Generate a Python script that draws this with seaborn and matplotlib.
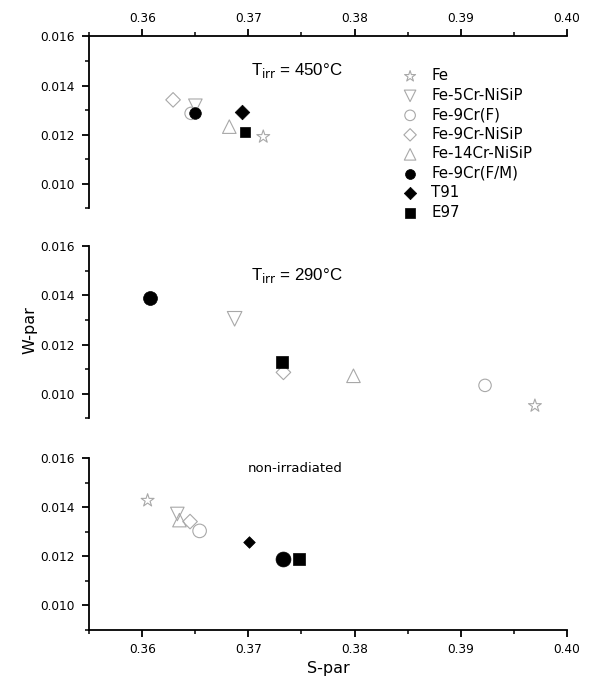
import matplotlib
matplotlib.use("Agg")
import matplotlib.pyplot as plt
import seaborn as sns
from matplotlib.ticker import MultipleLocator

# ─── Data ─────────────────────────────────────────────────────────────────────
samples = ["Fe", "Fe-5Cr-NiSiP", "Fe-9Cr(F)", "Fe-9Cr-NiSiP",
           "Fe-14Cr-NiSiP", "Fe-9Cr(F/M)", "T91", "E97"]

s_450 = [0.3714, 0.3650, 0.3646, 0.3629, 0.3682, 0.3650, 0.3694, 0.3697]
w_450 = [0.01192, 0.01318, 0.01287, 0.01342, 0.01233, 0.01287, 0.01291, 0.01213]

s_290 = [0.3970, 0.3687, 0.3923, 0.3733, 0.3799, 0.3607, None, 0.3732]
w_290 = [0.00951, 0.01305, 0.01034, 0.01087, 0.01073, 0.01388, None, 0.01131]

s_non = [0.3605, 0.3633, 0.3654, 0.3645, 0.3635, 0.3733, 0.3701, 0.3748]
w_non = [0.01428, 0.01373, 0.01304, 0.01342, 0.01348, 0.01191, 0.01260, 0.01188]

panel_text = [r"T$_{\rm irr}$ = 450°C", r"T$_{\rm irr}$ = 290°C", "non-irradiated"]

# ─── Style ────────────────────────────────────────────────────────────────────
GRAY = "#a8a8a8"
markers = ["*", "v", "o", "D", "^", "o", "D", "s"]
filled  = [False, False, False, False, False, True, True, True]
sizes = [
    [95, 95, 80, 55, 95, 70, 55, 60],    # 450 C
    [95, 110, 80, 55, 95, 100, 55, 75],  # 290 C
    [95, 95, 95, 55, 95, 115, 35, 75],   # non-irradiated
]

sns.set_style("ticks")
plt.rcParams["font.family"] = ["DejaVu Sans"]
plt.rcParams.update({
    "text.color": "black", "axes.labelcolor": "black",
    "axes.edgecolor": "black",
    "axes.linewidth": 1.3,
    "xtick.major.width": 1.3, "ytick.major.width": 1.3,
    "xtick.minor.width": 1.1, "ytick.minor.width": 1.1,
    "xtick.major.size": 5, "ytick.major.size": 5,
    "xtick.minor.size": 3, "ytick.minor.size": 3,
    "xtick.labelsize": 8.7, "ytick.labelsize": 8.7,
    "xtick.color": "black", "ytick.color": "black",
})

fig = plt.figure(figsize=(5.95, 6.88), dpi=100)
left, width = 0.150, 0.8025
ax_top = fig.add_axes([left, 0.697, width, 0.250])
ax_mid = fig.add_axes([left, 0.392, width, 0.250])
ax_bot = fig.add_axes([left, 0.0843, width, 0.2496])
axes = [ax_top, ax_mid, ax_bot]

for ax, xs, ys, szs in zip(axes, [s_450, s_290, s_non], [w_450, w_290, w_non], sizes):
    for name, x, y, m, f, sz in zip(samples, xs, ys, markers, filled, szs):
        if x is None:
            continue
        if f:
            sns.scatterplot(x=[x], y=[y], marker=m, s=sz, color="black",
                            edgecolor="black", linewidth=0.5, ax=ax,
                            label=name, zorder=3)
        else:
            sns.scatterplot(x=[x], y=[y], marker=m, s=sz, facecolors="none",
                            edgecolor=GRAY, linewidth=0.8, ax=ax,
                            label=name, zorder=3)
    ax.set_xlim(0.355, 0.40)
    ax.set_ylim(0.009, 0.016)
    ax.yaxis.set_major_locator(MultipleLocator(0.002))
    ax.yaxis.set_minor_locator(MultipleLocator(0.001))
    ax.xaxis.set_major_locator(MultipleLocator(0.01))
    ax.xaxis.set_minor_locator(MultipleLocator(0.005))
    ax.yaxis.set_major_formatter(lambda v, p: f"{v:.3f}")
    ax.xaxis.set_major_formatter(lambda v, p: f"{v:.2f}")
    ax.spines["right"].set_visible(False)
    ax.set_xlabel("")
    ax.set_ylabel("")
    ax.tick_params(axis="y", which="both", direction="out", left=True, pad=5.5)

# top panel: x axis on top
ax_top.spines["bottom"].set_visible(False)
ax_top.xaxis.tick_top()
ax_top.tick_params(axis="x", which="both", direction="out", top=True,
                   bottom=False, labeltop=True, labelbottom=False, pad=3)

# middle panel: no x axis
ax_mid.spines["top"].set_visible(False)
ax_mid.spines["bottom"].set_visible(False)
ax_mid.tick_params(axis="x", which="both", bottom=False, top=False,
                   labelbottom=False)

# bottom panel
ax_bot.spines["top"].set_visible(False)
ax_bot.tick_params(axis="x", which="both", direction="out", bottom=True,
                   pad=4)
ax_bot.set_xlabel("S-par", fontsize=11.5, labelpad=4)

for ax in (ax_mid, ax_bot):
    ax.get_legend().remove()

leg = ax_top.legend(loc="upper left", bbox_to_anchor=(0.657, 0.815),
                    frameon=False, fontsize=10.8, handlelength=0.95,
                    handletextpad=0.95, labelspacing=0.30, borderpad=0,
                    borderaxespad=0, scatterpoints=1, markerscale=0.85)

# panel annotations
ax_top.text(0.3702, 0.01461, panel_text[0], fontsize=12.2, va="center",
            family="Liberation Sans")
ax_mid.text(0.3702, 0.01482, panel_text[1], fontsize=12.2, va="center",
            family="Liberation Sans")
ax_bot.text(0.3699, 0.0156, panel_text[2], fontsize=9.5, va="center")

fig.text(0.05, 0.52, "W-par", rotation=90, fontsize=11.5,
         ha="center", va="center")

fig.savefig("out.png", dpi=100)
